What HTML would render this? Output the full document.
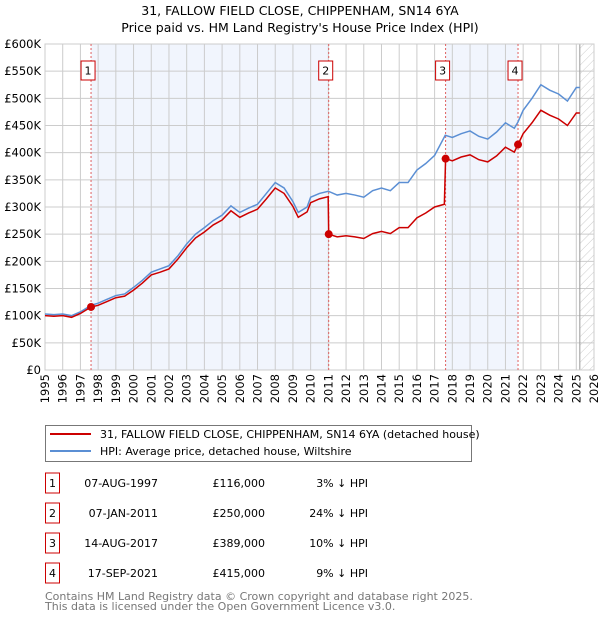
<!DOCTYPE html>
<html><head><meta charset="utf-8"><style>
body{margin:0;background:#fff;font-family:"Liberation Sans","DejaVu Sans",sans-serif;}
svg text{font-family:"DejaVu Sans","Liberation Sans",sans-serif;}
</style></head><body>
<svg id="c" width="600" height="620" xmlns="http://www.w3.org/2000/svg">
<defs><pattern id="hatch" width="6" height="6" patternUnits="userSpaceOnUse" patternTransform="rotate(45)"><line x1="0" y1="0" x2="0" y2="6" stroke="#ccc" stroke-width="1"/></pattern></defs>
<text x="300" y="15" text-anchor="middle" font-size="12.5">31, FALLOW FIELD CLOSE, CHIPPENHAM, SN14 6YA</text>
<text x="300" y="32" text-anchor="middle" font-size="12.5">Price paid vs. HM Land Registry's House Price Index (HPI)</text>
<g id="plot"></g>
<g>
<rect x="45.5" y="425.5" width="426" height="36" fill="#fff" stroke="#777"/>
<line x1="50" y1="434" x2="91" y2="434" stroke="#cc0000" stroke-width="2"/>
<text x="100" y="438" font-size="11">31, FALLOW FIELD CLOSE, CHIPPENHAM, SN14 6YA (detached house)</text>
<line x1="50" y1="451" x2="91" y2="451" stroke="#5b8fd4" stroke-width="2"/>
<text x="100" y="455" font-size="11">HPI: Average price, detached house, Wiltshire</text>
</g>
<g id="table" font-size="11"></g>
<text x="45" y="600" font-size="11" fill="#777">Contains HM Land Registry data © Crown copyright and database right 2025.</text>
<text x="45" y="610" font-size="11" fill="#777">This data is licensed under the Open Government Licence v3.0.</text>
</svg>
<script>
const hpiDates=[1995,1995.5,1996,1996.5,1997,1997.6,1998,1998.5,1999,1999.5,2000,2000.5,2001,2001.5,2002,2002.5,2003,2003.5,2004,2004.5,2005,2005.5,2006,2006.5,2007,2007.5,2008,2008.5,2009,2009.3,2009.8,2010,2010.5,2011,2011.5,2012,2012.5,2013,2013.5,2014,2014.5,2015,2015.5,2016,2016.5,2017,2017.6,2018,2018.5,2019,2019.5,2020,2020.5,2021,2021.5,2021.7,2022,2022.5,2023,2023.5,2024,2024.5,2025,2025.2];
const hpiValues=[103,102,103,100,107,119,123,130,137,140,152,165,180,186,192,210,232,250,262,275,285,302,290,298,305,325,345,335,310,290,300,318,325,329,322,325,322,318,330,335,330,345,345,368,380,395,432,428,435,440,430,425,438,455,445,456,478,500,525,515,508,495,520,520];
const priceDates=[1995,1995.5,1996,1996.5,1997,1997.6,1998,1998.5,1999,1999.5,2000,2000.5,2001,2001.5,2002,2002.5,2003,2003.5,2004,2004.5,2005,2005.5,2006,2006.5,2007,2007.5,2008,2008.5,2009,2009.3,2009.8,2010,2010.5,2010.99,2011.02,2011.5,2012,2012.5,2013,2013.5,2014,2014.5,2015,2015.5,2016,2016.5,2017,2017.55,2017.62,2018,2018.5,2019,2019.5,2020,2020.5,2021,2021.5,2021.71,2022,2022.5,2023,2023.5,2024,2024.5,2025,2025.2];
const priceValues=[100,99,100,97,104,116,119,126,133,136,147,160,175,180,186,204,225,243,254,267,276,293,281,289,296,315,335,325,301,281,291,308,315,319,250,245,247,245,242,251,255,251,262,262,280,289,300,305,389,385,392,396,387,383,394,410,401,415,435,455,478,469,462,450,473,473];
const saleLabels=["1","2","3","4"];
const saleDates=[1997.6,2011.02,2017.62,2021.71];
const salePrices=[116,250,389,415];
const saleDateText=["07-AUG-1997","07-JAN-2011","14-AUG-2017","17-SEP-2021"];
const salePriceText=["£116,000","£250,000","£389,000","£415,000"];
const saleDiffText=["3% ↓ HPI","24% ↓ HPI","10% ↓ HPI","9% ↓ HPI"];
const yTicks=[0,50,100,150,200,250,300,350,400,450,500,550,600];
const yTickLabels=["£0","£50K","£100K","£150K","£200K","£250K","£300K","£350K","£400K","£450K","£500K","£550K","£600K"];
const xTicks=[1995,1996,1997,1998,1999,2000,2001,2002,2003,2004,2005,2006,2007,2008,2009,2010,2011,2012,2013,2014,2015,2016,2017,2018,2019,2020,2021,2022,2023,2024,2025,2026];
const dataEnd=2025.2;

const L=45,R=594,T=44,B=370;
const X=d=>L+(d-1995)/(2026-1995)*(R-L);
const Y=v=>B-v/600*(B-T);
const NS="http://www.w3.org/2000/svg";
const plot=document.getElementById('plot');
function mk(tag,attrs,parent){const e=document.createElementNS(NS,tag);for(const k in attrs)e.setAttribute(k,attrs[k]);(parent||plot).appendChild(e);return e;}
let r=mk('rect',{x:L,y:T,width:R-L,height:B-T,fill:'#fff'});


// shaded bands
for(let i=0;i<saleDates.length;i+=2){
  const x1=X(saleDates[i]),x2=i+1<saleDates.length?X(saleDates[i+1]):X(dataEnd);
  const b=mk('rect',{x:x1,y:T,width:x2-x1,height:B-T,fill:'#eef3fc',opacity:0.8});
  
  
}
const h=mk('rect',{x:X(dataEnd),y:T,width:R-X(dataEnd),height:B-T,fill:'url(#hatch)'});


// grid
yTicks.forEach((v,i)=>{
  const g=mk('line',{x1:L,x2:R,y1:Y(v),y2:Y(v),stroke:'#ccc','stroke-width':1});
  
  
  const t=mk('text',{x:L-4,y:Y(v)+4,'text-anchor':'end','font-size':11.5});
  t.textContent=yTickLabels[i];
  
  
});
xTicks.forEach(d=>{
  const g=mk('line',{x1:X(d),x2:X(d),y1:T,y2:B,stroke:'#ccc','stroke-width':1});
  
  
  const t=mk('text',{x:0,y:0,'text-anchor':'end','font-size':11.5,transform:`translate(${X(d)+4},${B+4}) rotate(-90)`});
  t.textContent=d;
  
  
});
const el=mk('line',{x1:X(dataEnd),x2:X(dataEnd),y1:T,y2:B,stroke:'#999','stroke-width':1});


const fr=mk('rect',{x:L,y:T,width:R-L,height:B-T,fill:'none',stroke:'#ccc'});


// sale vlines + markers boxes
saleDates.forEach((d,i)=>{
  const v=mk('line',{x1:X(d),x2:X(d),y1:T,y2:B,stroke:'#e06060','stroke-width':1,'stroke-dasharray':'2,2'});
  
  
  const bx=mk('rect',{x:X(d)-10,y:61,width:14,height:19,fill:'#fff',stroke:'#cc0000'});
  
  
  const t=mk('text',{x:X(d)-3,y:74.5,'text-anchor':'middle','font-size':11});
  t.textContent=saleLabels[i];
  
  
});
const hp=mk('polyline',{points:hpiDates.map((d,i)=>X(d)+','+Y(hpiValues[i])).join(' '),fill:'none',stroke:'#5b8fd4','stroke-width':1.5});


const pp=mk('polyline',{points:priceDates.map((d,i)=>X(d)+','+Y(priceValues[i])).join(' '),fill:'none',stroke:'#cc0000','stroke-width':1.5});


saleDates.forEach((d,i)=>{
  const c=mk('circle',{cx:X(d),cy:Y(salePrices[i]),r:4,fill:'#cc0000'});
  
  
});
// table
const tb=document.getElementById('table');
saleLabels.forEach((s,i)=>{
  const y=483+i*30;
  const bx=mk('rect',{x:45.5,y:y-10,width:14,height:20,fill:'#fff',stroke:'#cc0000'},tb);
  
  
  const t0=mk('text',{x:52.5,y:y+4,'text-anchor':'middle'},tb);t0.textContent=s;
  
  
  const t1=mk('text',{x:158,y:y+4,'text-anchor':'end'},tb);t1.textContent=saleDateText[i];
  
  
  const t2=mk('text',{x:265,y:y+4,'text-anchor':'end'},tb);t2.textContent=salePriceText[i];
  
  
  const t3=mk('text',{x:368,y:y+4,'text-anchor':'end'},tb);t3.textContent=saleDiffText[i];
  
  
});
</script>
</body></html>
